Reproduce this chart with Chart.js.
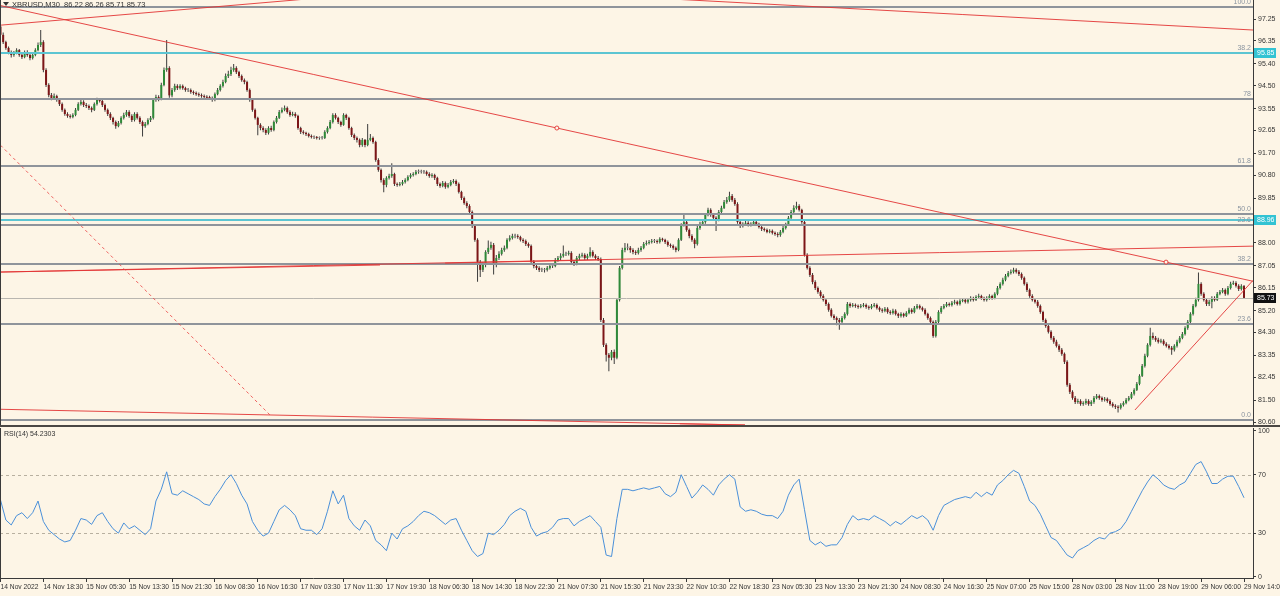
<!DOCTYPE html>
<html>
<head>
<meta charset="utf-8">
<title>XBRUSD M30</title>
<script src="https://cdn.jsdelivr.net/npm/chart.js@4.4.1/dist/chart.umd.min.js"></script>
<style>
    html, body { margin: 0; padding: 0; background: #fdf5e6; overflow: hidden; }
    #wrap { position: relative; width: 1280px; height: 596px; }
    canvas { position: absolute; left: 0; }
    #price { top: 0; }
    #rsi { top: 427px; }
    .sep { position: absolute; left: 0; top: 425px; width: 1280px; height: 2px; background: #4a4744; }
</style>
</head>
<body>
<div id="wrap">
    <canvas id="price" width="1280" height="425"></canvas>
    <div class="sep"></div>
    <canvas id="rsi" width="1280" height="169"></canvas>
</div>
<script>
// ======= Data (M30 bars, 14 Nov 2022 -> 29 Nov 2022) =======
const firstOpen = 96.95;

const closes = [
    96.60,96.30,96.06,95.89,95.77,95.85,95.97,95.77,95.68,95.89,95.77,95.64,95.77,95.97,96.18,96.30,
    95.15,94.53,94.11,93.99,94.07,93.91,93.74,93.50,93.33,93.25,93.21,93.29,93.50,93.74,93.83,93.70,
    93.66,93.58,93.50,93.74,93.91,93.87,93.70,93.50,93.33,93.17,93.00,92.83,92.96,93.17,93.29,93.41,
    93.25,93.08,93.33,93.17,93.00,92.83,92.92,93.08,93.17,93.91,94.03,93.95,94.53,95.15,95.23,94.10,
    94.32,94.49,94.40,94.49,94.40,94.32,94.32,94.24,94.20,94.15,94.11,94.07,94.03,94.00,93.99,93.91,
    94.15,94.32,94.49,94.65,94.90,94.98,95.15,95.23,95.06,94.90,94.73,94.65,94.32,93.91,93.50,93.17,
    92.88,92.75,92.67,92.55,92.75,92.67,93.00,93.17,93.41,93.50,93.58,93.41,93.29,93.33,93.25,92.75,
    92.59,92.55,92.50,92.42,92.38,92.38,92.34,92.34,92.34,92.59,92.75,93.00,93.29,93.17,93.00,92.88,
    93.29,93.17,92.75,92.46,92.34,92.26,92.05,92.26,92.05,92.26,92.34,92.17,91.43,91.02,90.60,90.40,
    90.69,90.77,90.85,90.44,90.40,90.44,90.52,90.60,90.73,90.81,90.85,90.94,90.94,90.94,90.94,90.85,
    90.77,90.81,90.69,90.44,90.36,90.48,90.32,90.40,90.52,90.56,90.44,90.11,89.86,89.65,89.53,89.28,
    88.70,88.13,87.22,86.89,87.09,87.63,87.80,87.92,87.09,87.38,87.55,87.71,87.80,88.13,88.21,88.29,
    88.29,88.25,88.13,88.08,87.96,87.88,87.22,87.05,86.97,86.89,86.89,86.89,86.97,87.05,87.05,87.30,
    87.38,87.47,87.55,87.55,87.59,87.22,87.13,87.38,87.47,87.51,87.38,87.47,87.63,87.47,87.38,87.34,
    84.82,83.79,83.38,83.26,83.50,83.26,85.65,86.97,87.71,87.80,87.80,87.71,87.63,87.59,87.71,87.80,
    87.96,88.00,88.04,88.08,88.08,88.04,88.17,88.13,88.04,87.92,87.88,87.80,87.71,88.13,88.75,88.87,
    88.54,88.29,88.13,87.96,88.62,88.79,88.87,89.16,89.37,89.16,89.04,88.95,89.28,89.45,89.69,89.78,
    89.94,89.78,89.61,88.87,88.70,88.79,88.83,88.75,88.79,88.87,88.79,88.66,88.58,88.54,88.46,88.50,
    88.42,88.37,88.33,88.46,88.62,88.75,89.04,89.28,89.45,89.53,89.37,88.87,87.51,86.97,86.68,86.39,
    86.14,85.98,85.81,85.65,85.48,85.24,84.99,84.90,84.82,84.74,84.90,85.07,85.48,85.40,85.44,85.40,
    85.36,85.40,85.44,85.36,85.32,85.40,85.44,85.32,85.24,85.20,85.28,85.15,85.11,85.20,85.07,84.99,
    85.07,84.99,85.11,85.24,85.15,85.32,85.40,85.32,85.24,85.07,84.90,84.74,84.16,84.74,85.15,85.32,
    85.40,85.48,85.44,85.53,85.57,85.48,85.61,85.65,85.57,85.65,85.73,85.65,85.77,85.81,85.73,85.65,
    85.73,85.81,85.73,85.90,86.14,86.31,86.48,86.64,86.76,86.81,86.89,86.81,86.72,86.56,86.31,86.06,
    85.81,85.65,85.57,85.40,85.15,84.82,84.57,84.33,84.08,83.92,83.75,83.59,83.42,83.09,82.14,81.85,
    81.60,81.43,81.47,81.35,81.39,81.47,81.35,81.43,81.60,81.68,81.60,81.52,81.56,81.47,81.35,81.27,
    81.23,81.19,81.31,81.39,81.52,81.60,81.77,81.93,82.18,82.51,82.92,83.34,83.79,84.16,84.08,84.00,
    83.92,83.96,83.83,83.75,83.67,83.59,83.75,83.92,84.08,84.24,84.49,84.74,85.07,85.40,85.65,86.31,
    85.90,85.65,85.48,85.57,85.73,85.65,85.90,85.98,86.06,85.90,86.14,86.31,86.35,86.23,86.10,86.22,
    85.73
];

const highs = [
    97.10,96.70,96.36,96.12,95.95,95.93,96.05,96.02,95.82,95.95,95.96,95.82,95.85,96.05,96.28,96.80,
    96.38,95.22,94.60,94.20,94.18,94.12,93.98,93.80,93.56,93.40,93.32,93.36,93.58,93.82,93.92,93.90,
    93.78,93.72,93.64,93.80,94.00,93.98,93.92,93.76,93.56,93.40,93.22,93.06,93.04,93.24,93.38,93.50,
    93.48,93.32,93.40,93.40,93.24,93.06,93.00,93.15,93.25,93.98,94.12,94.10,94.62,95.25,96.39,95.30,
    94.40,94.58,94.56,94.56,94.55,94.46,94.40,94.38,94.30,94.26,94.22,94.18,94.14,94.10,94.08,94.05,
    94.22,94.40,94.56,94.74,95.00,95.12,95.28,95.40,95.30,95.12,94.96,94.80,94.70,94.38,93.96,93.56,
    93.22,92.95,92.82,92.74,92.82,92.84,93.06,93.25,93.50,93.60,93.68,93.64,93.48,93.42,93.40,93.30,
    92.80,92.66,92.60,92.56,92.48,92.44,92.42,92.40,92.42,92.66,92.82,93.08,93.36,93.36,93.22,93.05,
    93.36,93.34,93.22,92.80,92.52,92.40,92.32,92.34,92.30,92.92,92.50,92.40,92.22,91.50,91.08,90.68,
    90.76,90.86,91.30,90.90,90.50,90.52,90.60,90.68,90.80,90.88,90.92,91.02,91.04,91.03,91.02,91.00,
    90.92,90.88,90.86,90.74,90.50,90.56,90.54,90.48,90.60,90.64,90.62,90.50,90.16,89.92,89.72,89.60,
    89.34,88.76,88.20,87.30,87.20,87.70,88.10,88.05,88.00,87.50,87.66,87.80,87.90,88.20,88.32,88.38,
    88.38,88.36,88.30,88.20,88.14,88.02,87.94,87.30,87.12,87.04,86.98,86.97,87.05,87.12,87.14,87.38,
    87.46,87.58,87.90,87.64,87.68,87.66,87.30,87.46,87.56,87.60,87.58,87.56,87.82,87.70,87.54,87.46,
    87.40,84.90,83.86,83.46,83.58,83.60,85.72,87.05,87.80,88.00,87.98,87.88,87.78,87.70,87.80,87.88,
    88.04,88.10,88.12,88.16,88.16,88.14,88.24,88.22,88.18,88.10,87.98,87.94,87.86,88.20,88.82,89.20,
    88.94,88.60,88.36,88.20,88.70,88.88,88.96,89.24,89.46,89.44,89.22,89.10,89.36,89.54,89.78,89.90,
    90.12,90.02,89.86,89.68,88.94,88.86,88.92,88.90,88.86,88.95,88.92,88.84,88.72,88.64,88.60,88.57,
    88.56,88.48,88.44,88.54,88.70,88.84,89.12,89.36,89.56,89.70,89.60,89.42,88.94,87.58,87.04,86.76,
    86.46,86.20,86.05,85.88,85.72,85.54,85.30,85.06,84.96,84.90,84.98,85.14,85.56,85.54,85.52,85.50,
    85.46,85.48,85.52,85.50,85.42,85.48,85.52,85.50,85.38,85.30,85.36,85.34,85.22,85.28,85.26,85.12,
    85.14,85.12,85.18,85.32,85.30,85.40,85.48,85.46,85.38,85.30,85.12,84.96,84.80,84.82,85.22,85.40,
    85.48,85.56,85.54,85.60,85.65,85.62,85.68,85.72,85.70,85.72,85.80,85.78,85.84,85.90,85.86,85.78,
    85.80,85.88,85.86,85.97,86.22,86.38,86.56,86.72,86.84,86.90,86.98,86.96,86.88,86.78,86.62,86.38,
    86.12,85.88,85.72,85.64,85.46,85.20,84.88,84.64,84.40,84.16,84.00,83.82,83.66,83.48,83.16,82.22,
    81.92,81.68,81.56,81.54,81.46,81.56,81.54,81.50,81.68,81.76,81.74,81.66,81.64,81.62,81.54,81.42,
    81.34,81.30,81.38,81.46,81.60,81.68,81.84,82.00,82.26,82.58,83.00,83.42,83.86,84.50,84.30,84.16,
    84.08,84.04,84.02,83.90,83.82,83.74,83.82,84.00,84.16,84.32,84.56,84.82,85.14,85.48,85.74,86.78,
    86.38,85.96,85.72,85.66,85.80,85.80,85.98,86.06,86.14,86.12,86.22,86.40,86.44,86.42,86.30,86.30,
    86.26
];

const lows = [
    96.50,96.22,95.98,95.80,95.66,95.70,95.80,95.70,95.60,95.63,95.70,95.55,95.58,95.72,95.92,96.10,
    95.05,94.45,94.02,93.90,93.92,93.84,93.66,93.42,93.26,93.18,93.14,93.15,93.24,93.45,93.68,93.62,
    93.58,93.50,93.40,93.45,93.68,93.80,93.62,93.42,93.25,93.08,92.90,92.72,92.78,92.90,93.10,93.22,
    93.18,93.00,93.02,93.10,92.92,92.40,92.76,92.86,93.00,93.10,93.84,93.86,93.90,94.48,95.08,94.00,
    94.02,94.25,94.32,94.34,94.33,94.25,94.24,94.17,94.12,94.08,94.04,94.00,93.96,93.93,93.92,93.84,
    93.86,94.10,94.26,94.42,94.60,94.82,94.90,95.08,94.98,94.82,94.66,94.56,94.25,93.84,93.42,93.10,
    92.45,92.66,92.58,92.46,92.48,92.60,92.62,92.94,93.12,93.36,93.44,93.34,93.22,93.24,93.18,92.68,
    92.50,92.48,92.42,92.36,92.32,92.30,92.28,92.27,92.28,92.30,92.52,92.70,92.94,93.10,92.92,92.80,
    92.84,93.08,92.68,92.38,92.26,92.15,91.96,91.98,91.96,92.00,92.20,92.10,91.36,90.94,90.50,90.10,
    90.30,90.62,90.70,90.36,90.32,90.34,90.38,90.46,90.55,90.66,90.75,90.80,90.86,90.87,90.86,90.78,
    90.70,90.70,90.60,90.36,90.28,90.30,90.24,90.26,90.34,90.46,90.36,90.04,89.78,89.58,89.44,89.20,
    88.62,88.05,86.40,86.60,86.80,87.00,87.55,87.72,86.70,87.00,87.30,87.48,87.64,87.74,88.06,88.14,
    88.20,88.18,88.06,88.00,87.88,87.80,87.14,86.96,86.88,86.80,86.80,86.78,86.82,86.90,86.97,87.00,
    87.22,87.30,87.40,87.46,87.48,87.14,87.05,87.08,87.30,87.40,87.30,87.30,87.40,87.40,87.30,87.26,
    84.74,83.70,83.10,82.70,83.16,83.00,83.20,85.58,86.90,87.62,87.70,87.60,87.54,87.50,87.52,87.64,
    87.74,87.90,87.94,87.98,88.00,87.97,87.98,88.06,87.96,87.85,87.80,87.72,87.62,87.66,88.08,88.68,
    88.46,88.20,88.05,87.78,87.90,88.55,88.72,88.80,89.10,89.08,88.96,88.50,88.90,89.22,89.40,89.62,
    89.70,89.70,89.54,88.80,88.62,88.64,88.74,88.68,88.68,88.72,88.72,88.60,88.50,88.47,88.40,88.40,
    88.35,88.30,88.24,88.26,88.40,88.56,88.70,88.98,89.20,89.38,89.30,88.80,87.44,86.90,86.60,86.30,
    86.06,85.90,85.74,85.58,85.40,85.16,84.92,84.82,84.60,84.42,84.66,84.84,85.00,85.32,85.34,85.32,
    85.28,85.30,85.34,85.28,85.24,85.26,85.34,85.25,85.16,85.12,85.14,85.08,85.04,85.05,85.00,84.90,
    84.92,84.92,84.94,85.06,85.08,85.10,85.26,85.25,85.17,85.00,84.83,84.66,84.08,84.10,84.68,85.08,
    85.26,85.34,85.38,85.38,85.46,85.42,85.42,85.55,85.50,85.50,85.58,85.58,85.60,85.70,85.66,85.58,
    85.58,85.66,85.66,85.68,85.84,86.08,86.24,86.42,86.58,86.70,86.74,86.74,86.64,86.48,86.24,85.98,
    85.74,85.58,85.50,85.32,85.08,84.74,84.50,84.26,84.00,83.84,83.68,83.50,83.34,83.00,82.06,81.76,
    81.52,81.35,81.36,81.28,81.28,81.32,81.28,81.27,81.36,81.54,81.52,81.44,81.45,81.40,81.28,81.20,
    81.14,81.00,81.12,81.24,81.34,81.46,81.54,81.70,81.88,82.12,82.46,82.86,83.28,83.72,84.00,83.92,
    83.85,83.86,83.76,83.68,83.60,83.38,83.52,83.68,83.86,84.02,84.18,84.42,84.68,85.00,85.34,85.58,
    85.82,85.58,85.40,85.40,85.30,85.58,85.60,85.84,85.92,85.82,85.84,86.08,86.26,86.16,86.02,86.04,
    85.71
];

// RSI(14), one reading every second bar
const rsiValues = [
    52.7,39,35.6,42,44,40,44,52,38,32,29,26,24,25,32,40,
    39,36,42,44,38,33,30,37,33,35,32,29,33,52,60,72,
    57,56,59,57,55,53,50,49,55,60,66,70,64,56,50,38,
    32,28,30,38,46,49,46,42,33,32,32,29,33,45,59,50,
    56,40,35,32,39,35,25,22,18,30,26,33,35,38,42,45,
    44,42,39,36,39,40,32,25,18,14,16,30,29,32,36,42,
    45,47,45,34,28,30,31,34,39,40,40,35,38,40,42,38,
    34,15,14,40,60,60,59,60,61,60,61,62,57,55,58,70,
    62,54,58,63,60,56,63,67,70,67,48,45,46,45,43,42,
    42,40,45,56,63,67,46,25,22,24,21,22,22,27,36,42,
    39,40,39,42,40,38,35,38,36,39,42,40,42,39,32,42,
    49,51,53,54,55,54,58,55,58,56,63,66,70,73,71,62,
    52,49,43,35,27,25,20,15,13,18,20,22,25,27,26,30,
    31,33,38,45,52,59,65,70,67,63,61,60,63,65,71,77,
    79,72,64,64,67,69,69,62,54.23
];

const timeLabels = [
    '14 Nov 2022', '14 Nov 18:30', '15 Nov 05:30', '15 Nov 13:30', '15 Nov 21:30',
    '16 Nov 08:30', '16 Nov 16:30', '17 Nov 03:30', '17 Nov 11:30', '17 Nov 19:30',
    '18 Nov 06:30', '18 Nov 14:30', '18 Nov 22:30', '21 Nov 07:30', '21 Nov 15:30',
    '21 Nov 23:30', '22 Nov 10:30', '22 Nov 18:30', '23 Nov 05:30', '23 Nov 13:30',
    '23 Nov 21:30', '24 Nov 08:30', '24 Nov 16:30', '25 Nov 07:00', '25 Nov 15:00',
    '28 Nov 03:00', '28 Nov 11:00', '28 Nov 19:00', '29 Nov 06:00', '29 Nov 14:00'
];

const priceTicks = [97.25, 96.35, 95.40, 94.50, 93.55, 92.65, 91.70, 90.80, 89.85, 88.90,
                    88.00, 87.05, 86.15, 85.20, 84.30, 83.35, 82.45, 81.50, 80.60];
const rsiTicks = [0, 30, 70, 100];
const rsiLevels = [70, 30];

// Fibonacci retracement levels and their captions
const fibPrices = [97.75, 95.87, 93.94, 91.19, 89.21, 88.74, 87.14, 84.67, 80.68];
const fibLabels = ['100.0', '38.2', '78', '61.8', '50.0', '23.6', '38.2', '23.6', '0.0'];

// horizontal price marks and the last quote
const markedPrices = [95.85, 88.96];
const lastPrice = 85.73;

// trend lines as [bar index, price] pairs
const trendLines = [
    { from: [207.6, 92.75], to: [434.9, 87.21], extend: true, anchors: true },
    { from: [0, 97.00], to: [109.9, 98.04], extend: true },
    { from: [313.2, 97.71], to: [467.3, 96.80], extend: true },
    { from: [0, 86.80], to: [467.3, 87.87], extend: true },
    { from: [0, 86.80], to: [141.6, 87.09] },
    { from: [165.9, 87.17], to: [223.7, 87.30] },
    { from: [0, 92.04], to: [100.6, 80.89], dashed: true },
    { from: [0, 81.13], to: [277.8, 80.48] },
    { from: [253.5, 80.53], to: [277.8, 80.48] },
    { from: [423.3, 81.10], to: [467.3, 86.45] }
];

// ======= Look =======
const BAR_PX = 2.68;
const PLOT_W = 1253;
const X_MIN = -0.5 / BAR_PX;
const X_MAX = X_MIN + PLOT_W / BAR_PX;
const BARS_PER_LABEL = 16;
const RSI_STEP = 2;

const BULL = '#2f8a39';
const BEAR = '#7c1517';
const DOJI = '#8a8a8a';
const WICK = '#3c3c3c';
const TEXT = '#333333';
const AXIS = '#3a3a3a';
const FIB = '#8f949b';
const FIB_TEXT = '#8a94a0';
const CYAN = '#5cc5d2';
const CYAN_BOX = '#33c3d3';
const RED = 'rgba(226, 52, 52, 0.9)';
const RED_DASH = 'rgba(235, 70, 70, 0.85)';
const RSI_BLUE = '#4a90d9';
const FONT_FAMILY = "'Liberation Sans', Arial, sans-serif";
const AXIS_FONT = { family: FONT_FAMILY, size: 7 };

Chart.defaults.font.family = FONT_FAMILY;

// each M30 bar opens where the previous one closed
const opens = closes.map((c, i) => i === 0 ? firstOpen : closes[i - 1]);
const bodyData = closes.map((c, i) => ({ x: i, y: [opens[i], c] }));
const wickData = closes.map((c, i) => ({ x: i, y: [lows[i], highs[i]] }));
const bodyColors = closes.map((c, i) => c > opens[i] ? BULL : (c < opens[i] ? BEAR : DOJI));

function hline(ctx, a, py) {
    ctx.beginPath();
    ctx.moveTo(a.left, py);
    ctx.lineTo(a.right, py);
    ctx.stroke();
}

function drawTrend(ctx, x, y, l) {
    let [b1, p1] = l.from;
    let [b2, p2] = l.to;
    if (l.extend) {
        const k = (p2 - p1) / (b2 - b1);
        const start = p1 + k * (x.min - b1);
        const end = p1 + k * (x.max - b1);
        b1 = x.min; p1 = start;
        b2 = x.max; p2 = end;
    }
    ctx.strokeStyle = l.dashed ? RED_DASH : RED;
    ctx.setLineDash(l.dashed ? [3, 3] : []);
    ctx.beginPath();
    ctx.moveTo(x.getPixelForValue(b1), y.getPixelForValue(p1));
    ctx.lineTo(x.getPixelForValue(b2), y.getPixelForValue(p2));
    ctx.stroke();
    if (l.anchors) {
        ctx.setLineDash([]);
        [l.from, l.to].forEach(([b, p]) => {
            ctx.beginPath();
            ctx.arc(x.getPixelForValue(b), y.getPixelForValue(p), 2, 0, Math.PI * 2);
            ctx.fillStyle = '#fdf5e6';
            ctx.fill();
            ctx.stroke();
        });
    }
}

function priceBox(ctx, y, price, bg) {
    const py = Math.round(y.getPixelForValue(price));
    ctx.fillStyle = bg;
    ctx.fillRect(1254, py - 5, 22, 10);
    ctx.fillStyle = '#ffffff';
    ctx.fillText(price.toFixed(2), 1257, py + 0.5);
}

// ======= Price panel overlays =======
const priceOverlay = {
    id: 'priceOverlay',
    afterDatasetsDraw(chart) {
        const { ctx, chartArea: a, scales: { x, y } } = chart;
        ctx.save();
        ctx.beginPath();
        ctx.rect(a.left, a.top, a.right - a.left, a.bottom - a.top);
        ctx.clip();

        ctx.strokeStyle = '#b9b6b0';
        ctx.lineWidth = 1;
        hline(ctx, a, Math.round(y.getPixelForValue(lastPrice)) + 0.5);

        ctx.strokeStyle = FIB;
        ctx.lineWidth = 2;
        fibPrices.forEach(p => hline(ctx, a, Math.round(y.getPixelForValue(p))));

        ctx.strokeStyle = CYAN;
        markedPrices.forEach(p => hline(ctx, a, Math.round(y.getPixelForValue(p))));

        ctx.fillStyle = FIB_TEXT;
        ctx.font = `7px ${FONT_FAMILY}`;
        ctx.textAlign = 'right';
        ctx.textBaseline = 'bottom';
        fibPrices.forEach((p, i) => {
            ctx.fillText(fibLabels[i], a.right - 2, Math.round(y.getPixelForValue(p)) - 1);
        });

        ctx.lineWidth = 1;
        trendLines.forEach(l => drawTrend(ctx, x, y, l));
        ctx.restore();
    },
    afterDraw(chart) {
        const { ctx, chartArea: a, scales: { y } } = chart;
        ctx.save();
        ctx.font = `7px ${FONT_FAMILY}`;
        ctx.textAlign = 'left';
        ctx.textBaseline = 'middle';
        markedPrices.forEach(p => priceBox(ctx, y, p, CYAN_BOX));
        priceBox(ctx, y, lastPrice, '#111111');

        // symbol header
        ctx.fillStyle = TEXT;
        ctx.beginPath();
        ctx.moveTo(3, 2); ctx.lineTo(9, 2); ctx.lineTo(6, 6); ctx.closePath();
        ctx.fill();
        ctx.font = `7.5px ${FONT_FAMILY}`;
        ctx.fillText('XBRUSD,M30  86.22 86.26 85.71 85.73', 12, 4.5);

        ctx.strokeStyle = AXIS;
        ctx.lineWidth = 1;
        ctx.beginPath();
        ctx.moveTo(a.left + 0.5, a.top);
        ctx.lineTo(a.left + 0.5, a.bottom);
        ctx.stroke();
        ctx.restore();
    }
};

// ======= RSI panel overlays =======
const rsiOverlay = {
    id: 'rsiOverlay',
    beforeDatasetsDraw(chart) {
        const { ctx, chartArea: a, scales: { y } } = chart;
        ctx.save();
        ctx.strokeStyle = '#b8b0a0';
        ctx.lineWidth = 1;
        ctx.setLineDash([3, 3]);
        rsiLevels.forEach(v => hline(ctx, a, Math.round(y.getPixelForValue(v)) + 0.5));
        ctx.restore();
    },
    afterDraw(chart) {
        const { ctx, chartArea: a } = chart;
        ctx.save();
        ctx.fillStyle = TEXT;
        ctx.font = `7px ${FONT_FAMILY}`;
        ctx.textBaseline = 'middle';
        ctx.fillText('RSI(14) 54.2303', 4, a.top + 6);
        ctx.strokeStyle = AXIS;
        ctx.beginPath();
        ctx.moveTo(a.left + 0.5, a.top);
        ctx.lineTo(a.left + 0.5, a.bottom);
        ctx.stroke();
        ctx.restore();
    }
};

const barStyle = { grouped: false, barPercentage: 1, categoryPercentage: 1, inflateAmount: 0, borderWidth: 0 };

new Chart(document.getElementById('price'), {
    type: 'bar',
    data: {
        datasets: [
            Object.assign({ data: bodyData, backgroundColor: bodyColors, maxBarThickness: 2, minBarLength: 1, order: 0 }, barStyle),
            Object.assign({ data: wickData, backgroundColor: WICK, maxBarThickness: 1, order: 1 }, barStyle)
        ]
    },
    options: {
        responsive: false,
        animation: false,
        events: [],
        layout: { padding: 0 },
        plugins: { legend: { display: false }, tooltip: { enabled: false } },
        scales: {
            x: { type: 'linear', display: false, offset: false, min: X_MIN, max: X_MAX },
            y: {
                position: 'right',
                min: 80.48,
                max: 98.04,
                afterBuildTicks: ax => { ax.ticks = priceTicks.map(v => ({ value: v })); },
                afterFit: ax => { ax.width = 27; ax.paddingTop = 0; ax.paddingBottom = 0; },
                ticks: { font: AXIS_FONT, color: TEXT, padding: 2, callback: v => v.toFixed(2) },
                grid: { drawOnChartArea: false, color: AXIS, tickLength: 3 },
                border: { color: AXIS }
            }
        }
    },
    plugins: [priceOverlay]
});

new Chart(document.getElementById('rsi'), {
    type: 'line',
    data: {
        datasets: [{
            data: rsiValues.map((v, k) => ({ x: k * RSI_STEP, y: v })),
            borderColor: RSI_BLUE,
            borderWidth: 1,
            pointRadius: 0,
            tension: 0,
            fill: false
        }]
    },
    options: {
        responsive: false,
        animation: false,
        events: [],
        layout: { padding: { top: 1, left: 0, right: 0, bottom: 0 } },
        plugins: { legend: { display: false }, tooltip: { enabled: false } },
        scales: {
            x: {
                type: 'linear',
                offset: false,
                min: X_MIN,
                max: X_MAX,
                afterBuildTicks: ax => { ax.ticks = timeLabels.map((_, k) => ({ value: k * BARS_PER_LABEL })); },
                afterFit: ax => { ax.height = 18; ax.paddingLeft = 0; ax.paddingRight = 0; },
                ticks: {
                    font: { family: FONT_FAMILY, size: 6.7 }, color: TEXT, padding: 1, align: 'start',
                    autoSkip: false, maxRotation: 0, minRotation: 0,
                    callback: (v, i) => timeLabels[i]
                },
                grid: { drawOnChartArea: false, color: AXIS, tickLength: 4 },
                border: { color: AXIS }
            },
            y: {
                position: 'right',
                min: -0.7,
                max: 102,
                afterBuildTicks: ax => { ax.ticks = rsiTicks.map(v => ({ value: v })); },
                afterFit: ax => { ax.width = 27; ax.paddingTop = 0; ax.paddingBottom = 0; },
                ticks: { font: AXIS_FONT, color: TEXT, padding: 2, callback: v => String(v) },
                grid: { drawOnChartArea: false, color: AXIS, tickLength: 3 },
                border: { color: AXIS }
            }
        }
    },
    plugins: [rsiOverlay]
});
</script>
</body>
</html>
